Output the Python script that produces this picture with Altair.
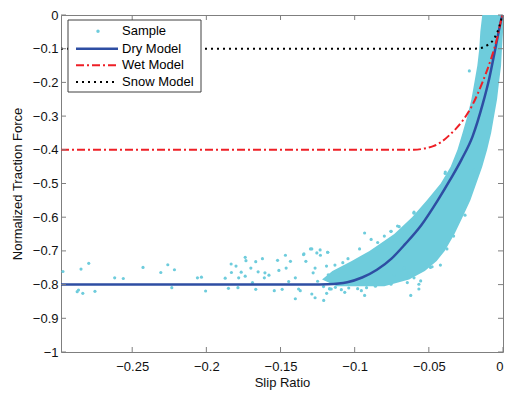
import altair as alt
import pandas as pd

# ---------------- data ----------------
x_ticks = [-0.25, -0.2, -0.15, -0.1, -0.05, 0]
y_ticks = [0, -0.1, -0.2, -0.3, -0.4, -0.5, -0.6, -0.7, -0.8, -0.9, -1]

dry_x = [-0.298, -0.13, -0.118, -0.105, -0.095, -0.085, -0.075, -0.066, -0.055,
         -0.044, -0.0355, -0.028, -0.0205, -0.0138, -0.0093, -0.0049, -0.0011, -0.0004]
dry_y = [-0.8, -0.8, -0.799, -0.793, -0.779, -0.756, -0.722, -0.68, -0.623,
         -0.55, -0.488, -0.429, -0.36, -0.266, -0.189, -0.094, -0.012, 0.0]

wet_x = [-0.298, -0.06, -0.053, -0.047, -0.042, -0.036, -0.0271, -0.0205,
         -0.0138, -0.0082, -0.0038, -0.0011, -0.0004]
wet_y = [-0.4, -0.4, -0.396, -0.389, -0.378, -0.356, -0.313, -0.266,
         -0.199, -0.132, -0.066, -0.012, 0.0]

snow_x = [-0.298, -0.02, -0.016, -0.0105, -0.006, -0.0027, -0.0004]
snow_y = [-0.1, -0.1, -0.099, -0.0895, -0.07, -0.037, 0.0]

# dense core of the sample cloud: left / right edge at each force level
band_y = [0.0, -0.05, -0.1, -0.15, -0.2, -0.25, -0.3, -0.35, -0.4, -0.45, -0.5,
          -0.55, -0.6, -0.65, -0.7, -0.73, -0.76, -0.785, -0.805]
band_left = [-0.014, -0.0153, -0.016, -0.0173, -0.0193, -0.0213, -0.024, -0.0273,
             -0.0307, -0.0353, -0.042, -0.0513, -0.0613, -0.0733, -0.09, -0.102,
             -0.115, -0.122, -0.112]
band_right = [0.0, 0.0, -0.0007, -0.0013, -0.0027, -0.004, -0.006, -0.008,
              -0.0107, -0.014, -0.018, -0.022, -0.0273, -0.0327, -0.0393, -0.0447,
              -0.0527, -0.0633, -0.08]

# scattered sample points around the cloud
sample_x = [-0.2967, -0.2845, -0.2793, -0.2871, -0.2862, -0.2833, -0.2751, -0.2618,
            -0.256, -0.2427, -0.2307, -0.226, -0.2233, -0.2215, -0.206, -0.2033,
            -0.2005, -0.1873, -0.1851, -0.1833, -0.1831, -0.18, -0.1787, -0.1782,
            -0.1765, -0.1738, -0.1733, -0.1738, -0.17, -0.1689, -0.1667, -0.1651,
            -0.1667, -0.1622, -0.1609, -0.1605, -0.1578, -0.1542, -0.152, -0.1511,
            -0.1489, -0.1467, -0.1462, -0.1445, -0.1433, -0.14, -0.1378, -0.1342,
            -0.1329, -0.1298, -0.1267, -0.1255, -0.1231, -0.1209, -0.1182, -0.1189,
            -0.1158,
            -0.1289, -0.1233, -0.1182, -0.1345, -0.0933, -0.0889, -0.0755, -0.0711,
            -0.0611, -0.06, -0.0549, -0.1367, -0.1289, -0.1167, -0.1067, -0.0955,
            -0.0755, -0.0645, -0.0567, -0.0555, -0.0489, -0.0422, -0.0933, -0.0622,
            -0.1111, -0.14, -0.1267, -0.1133, -0.1045, -0.0967, -0.0845, -0.08,
            -0.0733, -0.0667, -0.0845, -0.1, -0.1178, -0.0889,
            -0.0227, -0.039, -0.0193, -0.0256, -0.0333, -0.0378, -0.0478, -0.0567,
            -0.06, -0.0389, -0.06, -0.07, -0.0755,
            -0.125, -0.121, -0.117, -0.113, -0.109, -0.104, -0.098, -0.092, -0.086,
            -0.128, -0.119, -0.108]
sample_y = [-0.761, -0.754, -0.737, -0.821, -0.816, -0.826, -0.82, -0.78,
            -0.782, -0.749, -0.764, -0.741, -0.809, -0.756, -0.78, -0.778,
            -0.819, -0.781, -0.811, -0.739, -0.764, -0.745, -0.809, -0.78,
            -0.763, -0.719, -0.729, -0.775, -0.751, -0.794, -0.814, -0.762,
            -0.732, -0.723, -0.78, -0.765, -0.772, -0.818, -0.728, -0.758,
            -0.814, -0.713, -0.751, -0.791, -0.731, -0.842, -0.813, -0.709,
            -0.731, -0.694, -0.839, -0.706, -0.713, -0.847, -0.704, -0.826,
            -0.813,
            -0.694, -0.697, -0.704, -0.711, -0.647, -0.666, -0.642, -0.626,
            -0.613, -0.585, -0.596, -0.818, -0.828, -0.813, -0.823, -0.818,
            -0.799, -0.794, -0.813, -0.789, -0.749, -0.742, -0.832, -0.832,
            -0.771, -0.78, -0.751, -0.742, -0.723, -0.694, -0.675, -0.656,
            -0.771, -0.751, -0.751, -0.761, -0.771, -0.78,
            -0.166, -0.47, -0.461, -0.594, -0.656, -0.694, -0.747, -0.799,
            -0.78, -0.466, -0.588, -0.628, -0.642,
            -0.79, -0.806, -0.812, -0.808, -0.815, -0.81, -0.812, -0.809, -0.805,
            -0.765, -0.745, -0.735]

legend_labels = ["Sample", "Dry Model", "Wet Model", "Snow Model"]

# ---------------- styling ----------------
CYAN = "#6ECCDC"
BLUE = "#2E4EA3"
RED = "#EE1F26"
BLACK = "#000000"
GRAY = "#7f7f7f"
FONT = "Liberation Sans"
W, H = 442, 337

xs = alt.Scale(domain=[-0.298, 0], nice=False, zero=False)
ys = alt.Scale(domain=[-1, 0], nice=False, zero=False)

AX = alt.Axis(values=x_ticks, format="~g", title="Slip Ratio", ticks=False,
              domain=False, grid=False, labelPadding=8, titlePadding=3)
AY = alt.Axis(values=y_ticks, format="~g", title="Normalized Traction Force",
              ticks=False, domain=False, grid=False, labelPadding=3, titlePadding=8)

band_df = pd.DataFrame({"y": band_y, "xl": band_left, "xr": band_right})
samp_df = pd.DataFrame({"x": sample_x, "y": sample_y})
dry_df = pd.DataFrame({"x": dry_x, "y": dry_y})
wet_df = pd.DataFrame({"x": wet_x, "y": wet_y})
snow_df = pd.DataFrame({"x": snow_x, "y": snow_y})
xt_df = pd.DataFrame({"v": x_ticks})
yt_df = pd.DataFrame({"v": y_ticks})
one = pd.DataFrame({"a": [0]})

band = alt.Chart(band_df).mark_area(orient="horizontal", color=CYAN).encode(
    y=alt.Y("y:Q", scale=ys, axis=AY),
    x=alt.X("xl:Q", scale=xs, axis=AX),
    x2="xr:Q",
)
samp = alt.Chart(samp_df).mark_circle(color=CYAN, size=10, opacity=1).encode(
    x=alt.X("x:Q", scale=xs, axis=AX), y=alt.Y("y:Q", scale=ys, axis=AY))
dry = alt.Chart(dry_df).mark_line(color=BLUE, strokeWidth=2.5, interpolate="monotone").encode(
    x=alt.X("x:Q", scale=xs, axis=AX), y=alt.Y("y:Q", scale=ys, axis=AY))
wet = alt.Chart(wet_df).mark_line(color=RED, strokeWidth=2, strokeDash=[8, 3, 2, 3],
                                  interpolate="monotone").encode(
    x=alt.X("x:Q", scale=xs, axis=AX), y=alt.Y("y:Q", scale=ys, axis=AY))
snow = alt.Chart(snow_df).mark_line(color=BLACK, strokeWidth=2, strokeDash=[2, 4],
                                    interpolate="monotone").encode(
    x=alt.X("x:Q", scale=xs, axis=AX), y=alt.Y("y:Q", scale=ys, axis=AY))

# inward tick marks on all four sides
tb = alt.Chart(xt_df).mark_rule(color=GRAY).encode(
    x=alt.X("v:Q", scale=xs, axis=AX), y=alt.value(H - 5), y2=alt.value(H))
tt = alt.Chart(xt_df).mark_rule(color=GRAY).encode(
    x=alt.X("v:Q", scale=xs, axis=AX), y=alt.value(0), y2=alt.value(5))
tl = alt.Chart(yt_df).mark_rule(color=GRAY).encode(
    y=alt.Y("v:Q", scale=ys, axis=AY), x=alt.value(0), x2=alt.value(5))
tr = alt.Chart(yt_df).mark_rule(color=GRAY).encode(
    y=alt.Y("v:Q", scale=ys, axis=AY), x=alt.value(W - 5), x2=alt.value(W))

# legend box
lbox = alt.Chart(one).mark_rect(fill="white", stroke="#404040", strokeWidth=1).encode(
    x=alt.value(7), x2=alt.value(140), y=alt.value(5), y2=alt.value(77))
rows = [16.3, 33.7, 50.3, 67.0]
l_samp = alt.Chart(one).mark_circle(color=CYAN, size=12, opacity=1).encode(
    x=alt.value(37), y=alt.value(rows[0]))
l_dry = alt.Chart(one).mark_rule(color=BLUE, strokeWidth=2.5).encode(
    x=alt.value(15), x2=alt.value(57), y=alt.value(rows[1]))
l_wet = alt.Chart(one).mark_rule(color=RED, strokeWidth=2, strokeDash=[8, 3, 2, 3]).encode(
    x=alt.value(15), x2=alt.value(57), y=alt.value(rows[2]))
l_snow = alt.Chart(one).mark_rule(color=BLACK, strokeWidth=2, strokeDash=[2, 4]).encode(
    x=alt.value(15), x2=alt.value(57), y=alt.value(rows[3]))
l_texts = [
    alt.Chart(one).mark_text(align="left", baseline="middle", fontSize=13, font=FONT,
                             color="#000000").encode(
        x=alt.value(61), y=alt.value(r), text=alt.value(lab))
    for lab, r in zip(legend_labels, rows)
]

chart = alt.layer(
    band, samp, dry, wet, snow, tb, tt, tl, tr,
    lbox, l_samp, l_dry, l_wet, l_snow, *l_texts,
).properties(
    width=W, height=H,
    autosize="none",
    padding={"left": 53, "top": 7, "right": 5, "bottom": 38},
).configure_view(
    stroke=GRAY, strokeWidth=1,
).configure_axis(
    labelFont=FONT, titleFont=FONT, labelFontSize=13, titleFontSize=13,
    labelColor="#111111", titleColor="#111111", titleFontWeight="normal",
)

chart.save("out.html", embed_options={"renderer": "svg", "actions": False})
